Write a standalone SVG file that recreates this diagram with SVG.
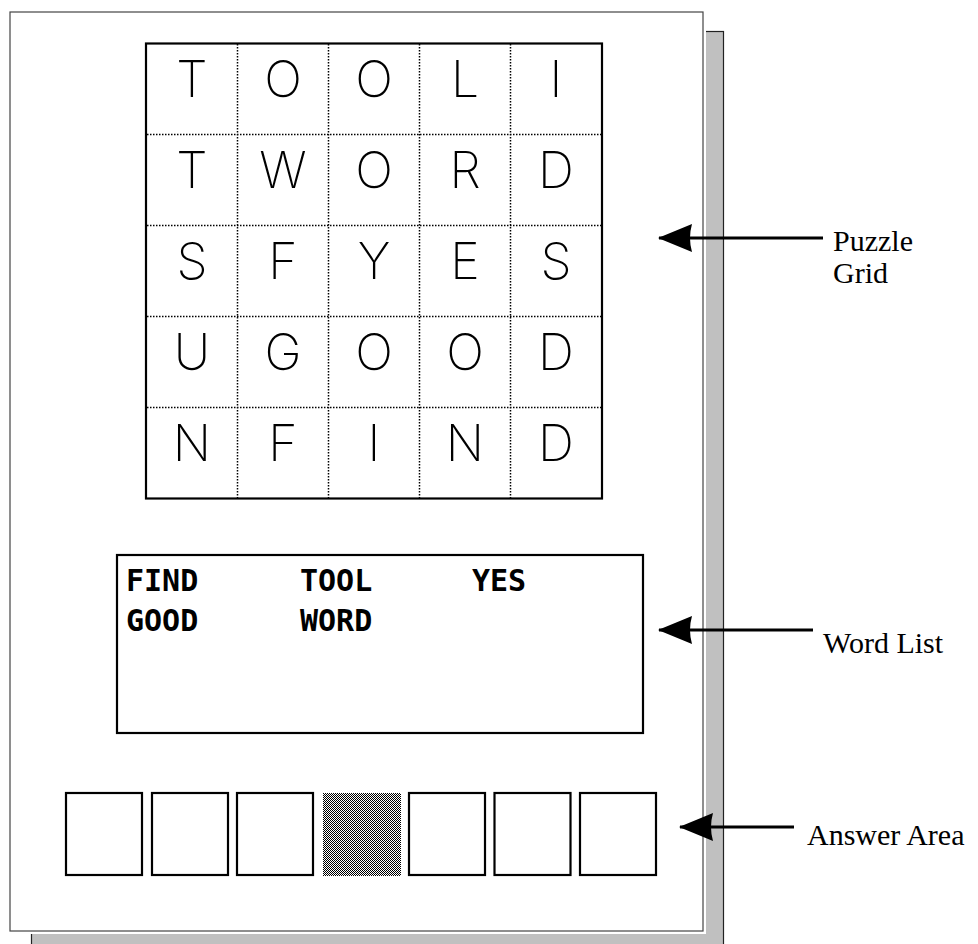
<svg xmlns="http://www.w3.org/2000/svg" width="978" height="944" viewBox="0 0 978 944">
<defs>
<pattern id="dither" width="2" height="2" patternUnits="userSpaceOnUse">
<rect width="2" height="2" fill="#fff"/>
<rect width="1" height="1" fill="#000"/>
<rect x="1" y="1" width="1" height="1" fill="#000"/>
</pattern>
<marker id="ah" viewBox="0 0 34 28" refX="33" refY="14" markerWidth="34" markerHeight="28" markerUnits="userSpaceOnUse" orient="auto">
<path d="M0,0 Q4,14 0,28 L34,14 Z" fill="#000"/>
</marker>
<style>
.grid{font-family:Inter,"Open Sans","Liberation Sans",sans-serif;font-size:50px;fill:#000;text-anchor:middle;font-weight:200}
.dot{stroke:#000;stroke-width:1.5;stroke-dasharray:1.5 1.5;fill:none}
.box{fill:#fff;stroke:#000;stroke-width:2.2}
.wl{font-family:"DejaVu Sans Mono",monospace;font-weight:bold;font-size:30px;fill:#000}
.lbl{font-family:"Liberation Serif","Times New Roman",serif;font-size:30px;fill:#000}
.arr{stroke:#000;stroke-width:3;fill:none}
</style>
</defs>
<g id="page">
<rect x="31.5" y="31.5" width="692" height="930" fill="#c0c0c0" stroke="#222" stroke-width="1.2"/>
<rect x="7" y="9" width="699" height="925" fill="#fff"/>
<rect x="10" y="12" width="693" height="919" fill="#fff" stroke="#444" stroke-width="1.2"/>
</g>
<g id="puzzle-grid">
<rect x="146" y="43.5" width="456" height="455" fill="#fff" stroke="#000" stroke-width="2.2"/>
<path class="dot" d="M237.5,44V498M328.5,44V498M419.5,44V498M510.5,44V498M147,134.5H601M147,225.5H601M147,316.5H601M147,407.5H601"/>
<g class="grid">
<text x="192" y="97">T</text><text x="283" y="97">O</text><text x="374" y="97">O</text><text x="465" y="97">L</text><text x="556" y="97">I</text>
<text x="192" y="188">T</text><text x="283" y="188">W</text><text x="374" y="188">O</text><text x="465" y="188">R</text><text x="556" y="188">D</text>
<text x="192" y="279">S</text><text x="283" y="279">F</text><text x="374" y="279">Y</text><text x="465" y="279">E</text><text x="556" y="279">S</text>
<text x="192" y="370">U</text><text x="283" y="370">G</text><text x="374" y="370">O</text><text x="465" y="370">O</text><text x="556" y="370">D</text>
<text x="192" y="461">N</text><text x="283" y="461">F</text><text x="374" y="461">I</text><text x="465" y="461">N</text><text x="556" y="461">D</text>
</g>
</g>
<g id="word-list">
<rect class="box" x="117" y="555" width="526" height="178"/>
<text class="wl" x="126" y="591">FIND</text>
<text class="wl" x="300" y="591">TOOL</text>
<text class="wl" x="472" y="591">YES</text>
<text class="wl" x="126" y="631">GOOD</text>
<text class="wl" x="300" y="631">WORD</text>
</g>
<g id="answer-area">
<rect class="box" x="66" y="793" width="76" height="82"/>
<rect class="box" x="152" y="793" width="76" height="82"/>
<rect class="box" x="237" y="793" width="76" height="82"/>
<rect x="323" y="793" width="78" height="83" fill="url(#dither)"/>
<rect class="box" x="409" y="793" width="76" height="82"/>
<rect class="box" x="494.5" y="793" width="76" height="82"/>
<rect class="box" x="580" y="793" width="76" height="82"/>
</g>
<g id="connectors">
<line class="arr" x1="823" y1="238" x2="659" y2="238" marker-end="url(#ah)"/>
<line class="arr" x1="813" y1="630" x2="659" y2="630" marker-end="url(#ah)"/>
<line class="arr" x1="794" y1="827" x2="680" y2="827" marker-end="url(#ah)"/>
</g>
<g id="label-puzzle-grid">
<text class="lbl" x="833" y="251">Puzzle</text>
<text class="lbl" x="833" y="283">Grid</text>
</g>
<g id="label-word-list">
<text class="lbl" x="823" y="653">Word List</text>
</g>
<g id="label-answer-area">
<text class="lbl" x="807" y="845">Answer Area</text>
</g>
</svg>
